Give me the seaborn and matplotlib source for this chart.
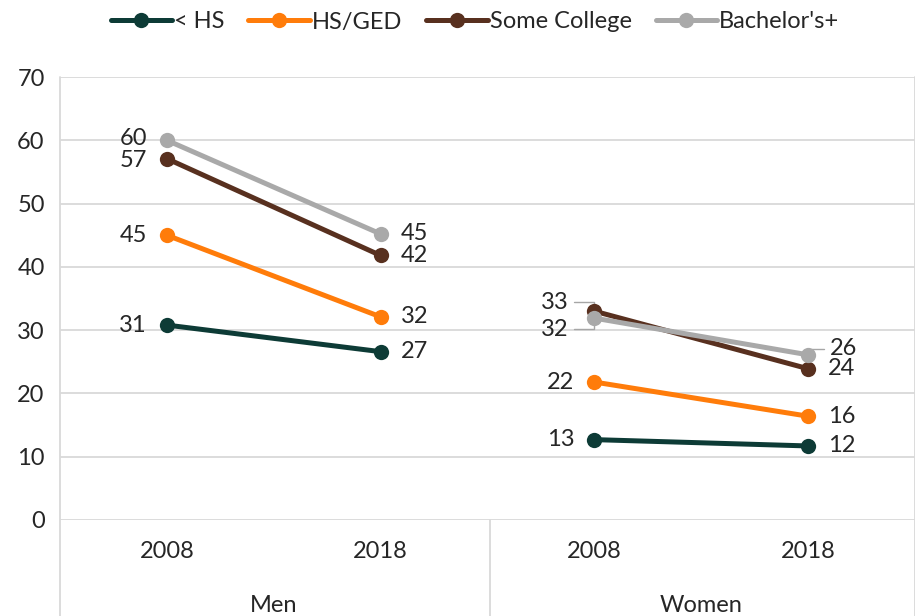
import pandas as pd
import matplotlib.pyplot as plt
import seaborn as sns
from matplotlib.lines import Line2D

# values
groups = ['Men', 'Men', 'Women', 'Women']
years = ['2008', '2018', '2008', '2018']
levels = ['< HS', 'HS/GED', 'Some College', "Bachelor's+"]
lt_hs = [30.8, 26.6, 12.7, 11.7]
hs_ged = [45.0, 32.1, 21.8, 16.4]
some_college = [57.1, 41.8, 33.0, 23.9]
bachelors = [60.0, 45.2, 31.9, 26.1]

colors = ['#0d3b36', '#ff7c0a', '#58301f', '#a9a9a9']

rows = []
for lvl, vals in zip(levels, [lt_hs, hs_ged, some_college, bachelors]):
    for i, v in enumerate(vals):
        rows.append({'pos': i, 'group': groups[i], 'year': years[i], 'level': lvl, 'value': v})
df = pd.DataFrame(rows)

sns.set_style('white')
plt.rcParams['font.family'] = ['Lato', 'DejaVu Sans']
fs = 17

fig = plt.figure(figsize=(9.15, 6.16), dpi=100)
ax = fig.add_axes([60 / 915, 96 / 616, 855 / 915, 443 / 616])

sns.lineplot(data=df, x='pos', y='value', hue='level', units='group', estimator=None,
             palette=dict(zip(levels, colors)), hue_order=levels, marker='o',
             markersize=11, markeredgewidth=0, linewidth=3.6, legend=False, ax=ax, zorder=3)

ax.set_xlim(-0.5, 3.5)
ax.set_ylim(0, 70)
ax.set_yticks(range(0, 71, 10))
ax.set_xticks(range(4))
ax.set_xticklabels(years)
ax.set_xlabel('')
ax.set_ylabel('')
ax.tick_params(axis='both', length=0, labelsize=fs)
ax.tick_params(axis='x', pad=15)
ax.tick_params(axis='y', pad=11)
ax.yaxis.grid(True, color='#d9d9d9', lw=1.3)
ax.set_axisbelow(True)
for s in ax.spines.values():
    s.set_visible(False)

# category separators
low = -96 / 443
sep = dict(color='#d9d9d9', lw=1.3, transform=ax.transAxes, clip_on=False)
ax.plot([0, 0], [low, 1], **sep)
ax.plot([0.503, 0.503], [low, 0], **sep)
ax.plot([1, 1], [low, 1], **sep)

for x, g in [(0.5, 'Men'), (2.5, 'Women')]:
    ax.text(x, -86 / 443, g, transform=ax.get_xaxis_transform(), ha='center', va='center', fontsize=fs)

# data labels
special = {
    (2, 'Some College'): (-26, 9),
    (2, "Bachelor's+"): (-26, -11),
    (3, "Bachelor's+"): (22, 6),
}
nudge = {(0, "Bachelor's+"): 2, (0, 'Some College'): -2}
for lvl, vals in zip(levels, [lt_hs, hs_ged, some_college, bachelors]):
    for i, v in enumerate(vals):
        txt = f'{v:.0f}'
        left = i % 2 == 0
        if (i, lvl) in special:
            dx, dy = special[(i, lvl)]
            ax.annotate(txt, (i, v), xytext=(dx, dy), textcoords='offset pixels',
                        ha='right' if left else 'left', va='center', fontsize=fs, zorder=1,
                        arrowprops=dict(arrowstyle='-', color='#a6a6a6', lw=1,
                                        shrinkA=2, shrinkB=0,
                                        relpos=(1, 0.5) if left else (0, 0.5),
                                        connectionstyle='angle,angleA=0,angleB=90,rad=0'))
        else:
            dx = -20 if left else 20
            dy = nudge.get((i, lvl), 0)
            ax.annotate(txt, (i, v), xytext=(dx, dy), textcoords='offset pixels',
                        ha='right' if left else 'left', va='center', fontsize=fs)

handles = [Line2D([], [], color=c, lw=3.6, marker='o', ms=11, mew=0) for c in colors]
fig.legend(handles, levels, loc='center', bbox_to_anchor=(475 / 915, 1 - 22 / 616), ncol=4,
           frameon=False, fontsize=17, handlelength=2.6, handletextpad=0.1, columnspacing=1.0)

fig.savefig('out.png', dpi=100)
